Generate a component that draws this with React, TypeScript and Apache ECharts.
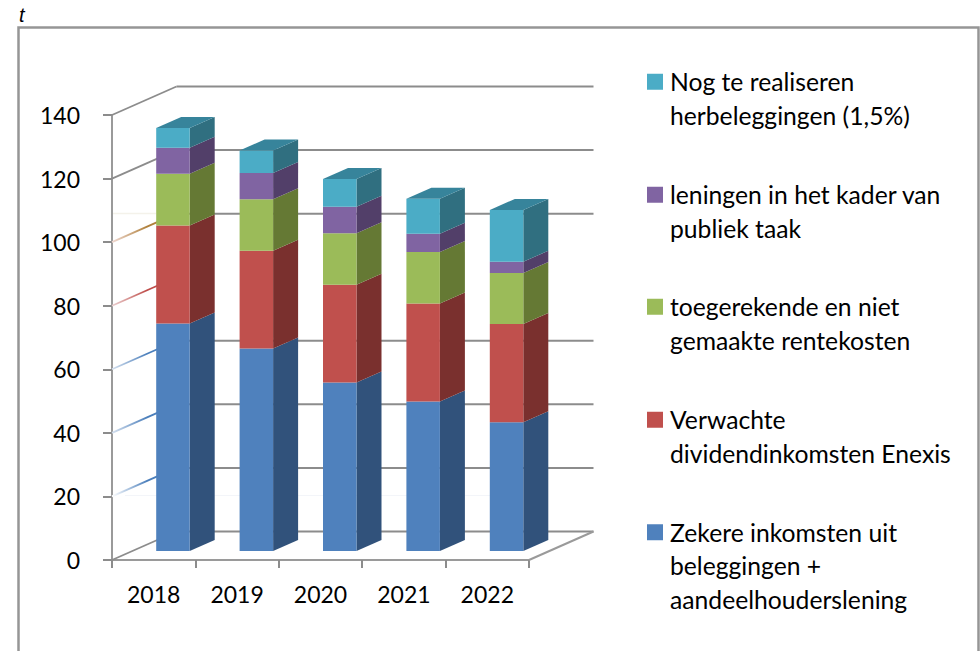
import React, { useEffect, useRef } from "react";
import * as echarts from "echarts";

const categories = ["2018", "2019", "2020", "2021", "2022"];
const yTicks = [0, 20, 40, 60, 80, 100, 120, 140];
const zeker = [71.6, 63.7, 53.0, 47.0, 40.5];
const dividend = [30.8, 30.8, 30.8, 30.9, 30.9];
const rente = [16.3, 16.2, 16.2, 16.2, 16.1];
const leningen = [8.2, 8.2, 8.3, 5.7, 3.5];
const herbeleg = [6.2, 7.1, 8.7, 11.0, 16.3];

const names = [
  "Zekere inkomsten uit beleggingen + aandeelhouderslening",
  "Verwachte dividendinkomsten Enexis",
  "toegerekende en niet gemaakte rentekosten",
  "leningen in het kader van publiek taak",
  "Nog te realiseren herbeleggingen (1,5%)",
];
const wrappedNames = [
  "\n\nZekere inkomsten uit\nbeleggingen +\naandeelhouderslening",
  "\nVerwachte\ndividendinkomsten Enexis",
  "\ntoegerekende en niet\ngemaakte rentekosten",
  "\nleningen in het kader van\npubliek taak",
  "\nNog te realiseren\nherbeleggingen (1,5%)",
];
const seriesValues = [zeker, dividend, rente, leningen, herbeleg];
const frontColors = ["#4F81BD", "#C0504D", "#9BBB59", "#8064A2", "#4BACC6"];
const sideColors = ["#31527B", "#7A302E", "#657934", "#523F69", "#306F80"];
const topColors = ["#3A6496", "#93403D", "#7A9440", "#64497F", "#37849B"];
const legendTops = [448.5, 369.5, 256.5, 144.5, 31.5];

const FONT = "Lato";
const GRID = { left: 112, top: 115, width: 417, height: 445 };
const WALL = { dx: 64.5, dy: -28.5 };
const BAR = { width: 33.5, offset: 2.5, base: -9, dx: 25, dy: -11 };
const GRAY = "#8C8C8C";

const fade = (from: string, to: string) =>
  new echarts.graphic.LinearGradient(0, 0, 1, 0, [
    { offset: 0, color: from },
    { offset: 0.55, color: to },
    { offset: 1, color: to },
  ]);

const leftWallStroke = (v: number): any => {
  if (v === 20) return fade("#FFFFFF", "#4A7EBB");
  if (v === 40 || v === 60) return fade("#D5E0EE", "#4A7EBB");
  if (v === 80) return fade("#EBD0D0", "#BE4B48");
  if (v === 100) return fade("#EFD8D2", "#B0803A");
  return GRAY;
};

const backWallStroke = (v: number): any => {
  if (v === 80)
    return new echarts.graphic.LinearGradient(0, 0, 1, 0, [
      { offset: 0, color: "#A83E3C" },
      { offset: 0.3, color: "#A83E3C" },
      { offset: 0.36, color: GRAY },
      { offset: 1, color: GRAY },
    ]);
  return GRAY;
};

const renderWall = (params: any, api: any) => {
  const v = api.value(1);
  const y = api.coord([0, v])[1];
  const cs = params.coordSys;
  const x0 = cs.x;
  const x1 = cs.x + cs.width;
  const bx = x0 + WALL.dx;
  const by = y + WALL.dy;
  const children: any[] = [
    {
      type: "line",
      shape: { x1: x0, y1: y, x2: bx, y2: by },
      style: { stroke: leftWallStroke(v), lineWidth: 1.8 },
    },
    {
      type: "line",
      shape: { x1: bx, y1: by, x2: x1 + WALL.dx, y2: by },
      style: { stroke: backWallStroke(v), lineWidth: 2 },
    },
  ];
  if (v === 0) {
    children.push({
      type: "line",
      shape: { x1: x1, y1: y, x2: x1 + WALL.dx, y2: by },
      style: { stroke: "#9A9A9A", lineWidth: 2 },
    });
  }
  return { type: "group", children };
};

const makeRenderBar = (s: number) => (_params: any, api: any) => {
  const i = api.value(0);
  const lo = api.value(1);
  const hi = api.value(2);
  const cx = api.coord([i, 0])[0];
  const yLo = api.coord([i, lo])[1] + BAR.base;
  const yHi = api.coord([i, hi])[1] + BAR.base;
  const xl = cx + BAR.offset;
  const xr = xl + BAR.width;
  const children: any[] = [
    {
      type: "polygon",
      shape: {
        points: [
          [xr, yHi],
          [xr + BAR.dx, yHi + BAR.dy],
          [xr + BAR.dx, yLo + BAR.dy],
          [xr, yLo],
        ],
      },
      style: { fill: sideColors[s] },
    },
    {
      type: "rect",
      shape: { x: xl, y: yHi, width: BAR.width, height: yLo - yHi },
      style: { fill: frontColors[s] },
    },
  ];
  if (s === seriesValues.length - 1) {
    children.push({
      type: "polygon",
      shape: {
        points: [
          [xl, yHi],
          [xr, yHi],
          [xr + BAR.dx, yHi + BAR.dy],
          [xl + BAR.dx, yHi + BAR.dy],
        ],
      },
      style: { fill: topColors[s] },
    });
  }
  return { type: "group", children };
};

const buildSeries = () => {
  const running = categories.map(() => 0);
  return seriesValues.map((vals, s) => {
    const data = vals.map((v, i) => {
      const lo = running[i];
      running[i] = lo + v;
      return [i, lo, running[i]];
    });
    return {
      type: "custom",
      name: names[s],
      coordinateSystem: "cartesian2d",
      renderItem: makeRenderBar(s),
      encode: { x: 0, y: [1, 2] },
      data,
      silent: true,
      z: 5,
      itemStyle: { color: frontColors[s] },
    };
  });
};

export default function App() {
  const ref = useRef<HTMLDivElement>(null);
  useEffect(() => {
    document.body.style.margin = "0";
    const chart = echarts.init(ref.current!, null, { renderer: "svg" });
    chart.setOption({
      animation: false,
      backgroundColor: "#FFFFFF",
      grid: { ...GRID, containLabel: false },
      xAxis: {
        type: "category",
        data: categories,
        boundaryGap: true,
        axisLine: { lineStyle: { color: "#9A9A9A", width: 2 } },
        axisTick: { show: true, alignWithLabel: false, length: 8, lineStyle: { color: "#8C8C8C", width: 2 } },
        axisLabel: { fontFamily: FONT, fontSize: 23, color: "#000", margin: 22 },
        splitLine: { show: false },
      },
      yAxis: {
        type: "value",
        min: 0,
        max: 140,
        interval: 20,
        axisLine: { show: true, lineStyle: { color: "#9A9A9A", width: 2 } },
        axisTick: { show: true, length: 9, lineStyle: { color: "#8C8C8C", width: 2 } },
        axisLabel: { fontFamily: FONT, fontSize: 23, color: "#000", margin: 32 },
        splitLine: { show: false },
      },
      legend: names.map((n, s) => ({
        show: true,
        data: [n],
        orient: "vertical",
        left: 647,
        top: legendTops[s],
        padding: 0,
        itemWidth: 16,
        itemHeight: 16,
        icon: "rect",
        selectedMode: false,
        formatter: () => wrappedNames[s],
        textStyle: {
          fontFamily: FONT,
          fontSize: 24.7,
          color: "#000",
          lineHeight: 33.5,
          padding: [0, 0, 0, 2],
        },
      })),
      graphic: [
        {
          type: "polyline",
          z: 0,
          shape: { points: [[18.5, 660], [18.5, 27.5], [978.5, 27.5], [978.5, 660]] },
          style: { stroke: "#969696", lineWidth: 2.5, fill: "none" },
        },
        {
          type: "text",
          x: 19,
          y: 5,
          style: { text: "t", fontFamily: "Liberation Sans", fontStyle: "italic", fontSize: 20, fill: "#000" },
        },
        {
          type: "line",
          z: 0,
          shape: { x1: 112, y1: 213.5, x2: 156, y2: 213.5 },
          style: { stroke: "#F4F2EA", lineWidth: 1.5 },
        },
        {
          type: "line",
          z: 0,
          shape: { x1: 125, y1: 495.5, x2: 500, y2: 495.5 },
          style: { stroke: "#F3F5F9", lineWidth: 1 },
        },
      ],
      series: [
        {
          type: "custom",
          name: "wall",
          coordinateSystem: "cartesian2d",
          renderItem: renderWall,
          encode: { x: 0, y: 1 },
          data: yTicks.map((v) => [0, v]),
          silent: true,
          z: 1,
        },
        ...buildSeries(),
      ],
    });
    return () => chart.dispose();
  }, []);
  return <div ref={ref} style={{ position: "absolute", left: 0, top: 0, width: 980, height: 651 }} />;
}
